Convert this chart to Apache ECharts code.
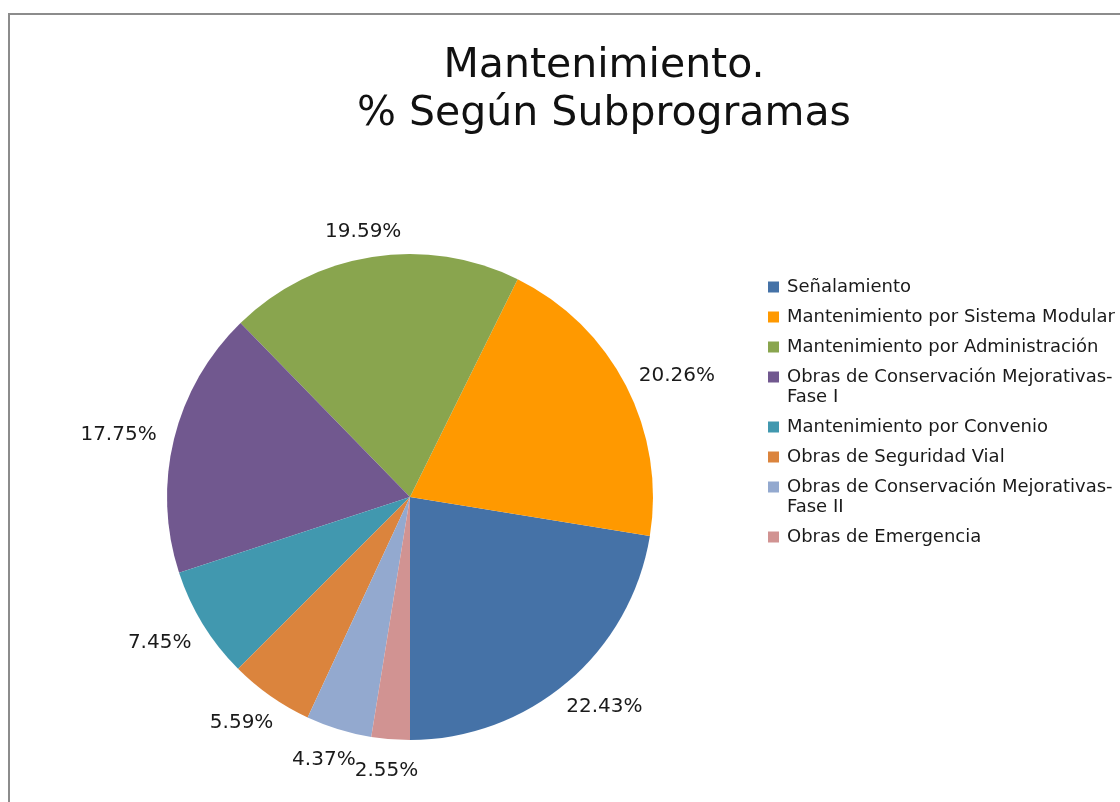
<!DOCTYPE html>
<html>
<head>
<meta charset="utf-8">
<script src="https://cdn.jsdelivr.net/npm/echarts@6/dist/echarts.min.js"></script>
<style>
html,body{margin:0;padding:0;background:#fff;}
#main{width:1120px;height:802px;}
</style>
</head>
<body>
<div id="main"></div>
<script>
const titleLines = ['Mantenimiento.', '% Según Subprogramas'];
const categories = [
  'Señalamiento',
  'Mantenimiento por Sistema Modular',
  'Mantenimiento por Administración',
  'Obras de Conservación Mejorativas-Fase I',
  'Mantenimiento por Convenio',
  'Obras de Seguridad Vial',
  'Obras de Conservación Mejorativas-Fase II',
  'Obras de Emergencia'
];
const values = [22.43, 20.26, 19.59, 17.75, 7.45, 5.59, 4.37, 2.55];
const colors = ['#4572A7', '#FF9900', '#89A54E', '#71588F', '#4198AF', '#DB843D', '#93A9CF', '#D19392'];

const FONT = 'DejaVu Sans';
const CX = 410, CY = 497, R = 243, START = 270, GAP = 19;
const total = values.reduce((a, b) => a + b, 0);
const cum = [];
values.reduce((acc, v, i) => { cum[i] = acc; return acc + v; }, 0);

// rich styles for legend: square swatch inline with first text line
const legendRich = {
  t: {fontFamily: FONT, fontSize: 18, color: '#1a1a1a', lineHeight: 20},
  sp: {width: 8, height: 11},
  ind: {width: 19, height: 11}
};
colors.forEach((c, i) => { legendRich['s' + i] = {width: 11, height: 11, backgroundColor: c}; });

const chart = echarts.init(document.getElementById('main'), null, {renderer: 'canvas'});
chart.setOption({
  backgroundColor: '#ffffff',
  animation: false,
  color: colors,
  graphic: [{
    type: 'rect',
    shape: {x: 9, y: 14, width: 1300, height: 1000},
    style: {fill: 'none', stroke: '#8c8c8c', lineWidth: 2},
    silent: true
  }],
  title: {
    text: titleLines.join('\n'),
    left: 604,
    top: 42,
    padding: 0,
    textAlign: 'center',
    textStyle: {fontFamily: FONT, fontSize: 41, fontWeight: 'normal', color: '#111', lineHeight: 48}
  },
  legend: {
    orient: 'vertical',
    left: 763,
    top: 277,
    padding: 0,
    itemWidth: 0,
    itemHeight: 20,
    itemGap: 10,
    icon: 'none',
    selectedMode: false,
    formatter: function (name) {
      const i = categories.indexOf(name);
      const parts = name.replace('-Fase', '-\nFase').split('\n');
      let s = '{s' + i + '|}{sp|}{t|' + parts[0] + '}';
      for (let k = 1; k < parts.length; k++) s += '\n{ind|}{t|' + parts[k] + '}';
      return s;
    },
    textStyle: {fontFamily: FONT, fontSize: 18, color: '#1a1a1a', lineHeight: 20, rich: legendRich},
    data: categories
  },
  series: [{
    type: 'pie',
    center: [CX, CY],
    radius: R,
    startAngle: START,
    clockwise: false,
    avoidLabelOverlap: false,
    itemStyle: {borderWidth: 0},
    label: {
      show: true,
      position: 'outside',
      formatter: p => p.value.toFixed(2) + '%',
      fontFamily: FONT,
      fontSize: 20,
      color: '#1a1a1a',
      lineHeight: 20
    },
    labelLine: {show: false},
    labelLayout: function (p) {
      const i = p.dataIndex;
      const mid = START + (cum[i] + values[i] / 2) / total * 360;
      const a = mid * Math.PI / 180;
      const ux = Math.cos(a), uy = -Math.sin(a);
      const w = p.labelRect.width, h = p.labelRect.height;
      return {
        x: CX + ux * (R + GAP) + ux * w / 2,
        y: CY + uy * (R + GAP) + uy * h / 2 + 3,
        align: 'center',
        verticalAlign: 'middle'
      };
    },
    emphasis: {disabled: true},
    data: categories.map((n, i) => ({name: n, value: values[i]}))
  }]
});
</script>
</body>
</html>
